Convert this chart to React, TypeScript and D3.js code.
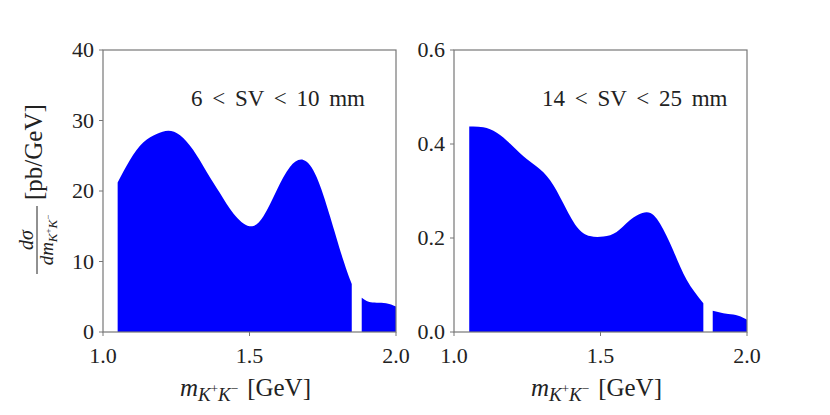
import * as d3 from "d3";

// Mass grid and cross sections
const massMain6 = [1.05, 1.092, 1.138, 1.183, 1.223, 1.263, 1.308, 1.354, 1.399, 1.445, 1.5, 1.547, 1.593, 1.638, 1.684, 1.729, 1.775, 1.82, 1.849];
const sigmaMain6 = [21.2, 24.4, 26.9, 28.1, 28.55, 27.9, 25.8, 22.7, 19.7, 16.8, 15.0, 16.4, 20.1, 23.4, 24.4, 22.0, 16.4, 10.2, 6.8];
const massTail6 = [1.883, 1.9, 1.92, 1.95, 1.98, 2.0];
const sigmaTail6 = [4.87, 4.4, 4.2, 4.15, 3.95, 3.6];

const massMain14 = [1.052, 1.1, 1.146, 1.191, 1.237, 1.282, 1.328, 1.373, 1.419, 1.464, 1.51, 1.555, 1.6, 1.658, 1.703, 1.748, 1.794, 1.851];
const sigmaMain14 = [0.437, 0.4355, 0.424, 0.401, 0.374, 0.352, 0.323, 0.274, 0.224, 0.204, 0.203, 0.213, 0.238, 0.255, 0.231, 0.174, 0.111, 0.061];
const massTail14 = [1.883, 1.919, 1.953, 1.985, 2.0];
const sigmaTail14 = [0.045, 0.04, 0.037, 0.031, 0.026];

const xTicks = [1.0, 1.5, 2.0];
const yTicks6 = [0, 10, 20, 30, 40];
const yTicks14 = [0, 0.2, 0.4, 0.6];

const FONT = "Liberation Serif";
const FRAME = "#777";
const INK = "#222";

type PanelProps = {
  left: number;
  label: string;
  yMax: number;
  yTicks: number[];
  yFormat: (v: number) => string;
  segments: { x: number[]; y: number[] }[];
};

const top = 50;
const bottom = 332;
const plotW = 293;

function Panel({ left, label, yMax, yTicks, yFormat, segments }: PanelProps) {
  const x = d3.scaleLinear().domain([1, 2]).range([left, left + plotW]);
  const y = d3.scaleLinear().domain([0, yMax]).range([bottom, top]);

  const area = d3
    .area<[number, number]>()
    .x((d) => x(d[0]))
    .y0(y(0))
    .y1((d) => y(d[1]))
    .curve(d3.curveNatural);

  return (
    <g>
      {segments.map((s, i) => (
        <path
          key={i}
          d={area(s.x.map((m, j) => [m, s.y[j]] as [number, number])) ?? ""}
          fill="#0000ff"
        />
      ))}
      <rect
        x={left}
        y={top}
        width={plotW}
        height={bottom - top}
        fill="none"
        stroke={FRAME}
        strokeWidth={1.2}
      />
      {yTicks.map((t) => (
        <g key={t}>
          <line x1={left - 4} x2={left} y1={y(t)} y2={y(t)} stroke={FRAME} />
          <text
            x={left - 9}
            y={y(t)}
            dy="0.34em"
            textAnchor="end"
            fontSize={22}
            fontFamily={FONT}
            fill={INK}
          >
            {yFormat(t)}
          </text>
        </g>
      ))}
      {xTicks.map((t) => (
        <g key={t}>
          <line x1={x(t)} x2={x(t)} y1={bottom} y2={bottom + 4} stroke={FRAME} />
          <text
            x={x(t)}
            y={363}
            textAnchor="middle"
            fontSize={22}
            fontFamily={FONT}
            fill={INK}
          >
            {t.toFixed(1)}
          </text>
        </g>
      ))}
      <text
        x={left + 88}
        y={106}
        fontSize={23}
        fontFamily={FONT}
        fill={INK}
        wordSpacing={4}
      >
        {label}
      </text>
      <text
        x={x(1.5) - 4}
        y={396}
        textAnchor="middle"
        fontSize={25}
        fontFamily={FONT}
        fill={INK}
      >
        <tspan fontStyle="italic">m</tspan>
        <tspan fontStyle="italic" fontSize={19} dy={5}>K</tspan>
        <tspan fontSize={13} dy={-8}>+</tspan>
        <tspan fontStyle="italic" fontSize={19} dy={8}>K</tspan>
        <tspan fontSize={13} dy={-8}>−</tspan>
        <tspan dy={3} dx={9}>[GeV]</tspan>
      </text>
    </g>
  );
}

export default function App() {
  return (
    <svg width={830} height={415} style={{ display: "block", margin: "-8px" }}>
      <rect width={830} height={415} fill="#fff" />
      <Panel
        left={103}
        label="6 < SV < 10 mm"
        yMax={40}
        yTicks={yTicks6}
        yFormat={(v) => String(v)}
        segments={[
          { x: massMain6, y: sigmaMain6 },
          { x: massTail6, y: sigmaTail6 },
        ]}
      />
      <Panel
        left={454}
        label="14 < SV < 25 mm"
        yMax={0.6}
        yTicks={yTicks14}
        yFormat={(v) => v.toFixed(1)}
        segments={[
          { x: massMain14, y: sigmaMain14 },
          { x: massTail14, y: sigmaTail14 },
        ]}
      />
      {/* y axis label: dσ / dm_{K+K-} [pb/GeV] */}
      <g transform="translate(37,240) rotate(-90)" fontFamily={FONT} fill={INK}>
        <text x={0} y={-4} textAnchor="middle" fontSize={20} fontStyle="italic">
          dσ
        </text>
        <line x1={-34} x2={34} y1={0} y2={0} stroke={INK} strokeWidth={1} />
        <text x={0} y={16} textAnchor="middle" fontSize={19}>
          <tspan fontStyle="italic">dm</tspan>
          <tspan fontStyle="italic" fontSize={13} dy={4}>K</tspan>
          <tspan fontSize={9} dy={-6}>+</tspan>
          <tspan fontStyle="italic" fontSize={13} dy={6}>K</tspan>
          <tspan fontSize={9} dy={-6}>−</tspan>
        </text>
        <text x={40} y={5} textAnchor="start" fontSize={25}>
          [pb/GeV]
        </text>
      </g>
    </svg>
  );
}
